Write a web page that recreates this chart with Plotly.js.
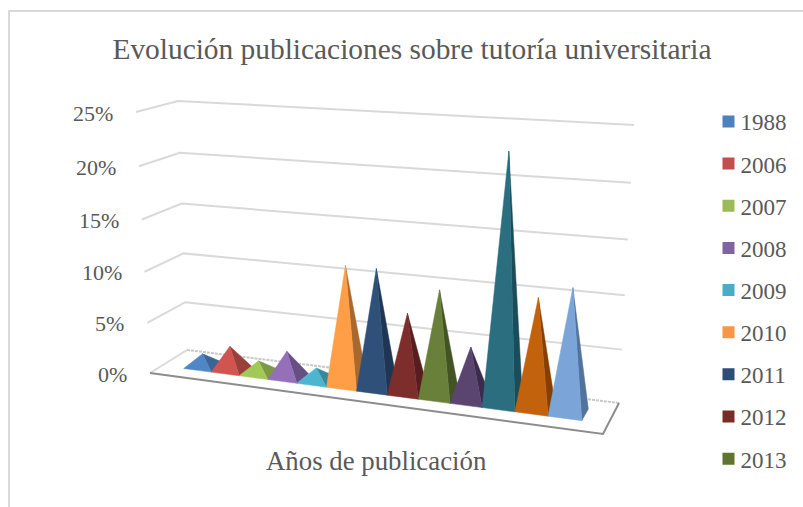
<!DOCTYPE html>
<html><head><meta charset="utf-8">
<script src="https://cdn.plot.ly/plotly-3.0.1.min.js"></script>
<style>html,body{margin:0;padding:0;background:#fff;overflow:hidden}</style>
</head><body><div id="chart" style="width:803px;height:507px"></div>
<script>
const years = ['1988','2006','2007','2008','2009','2010','2011','2012','2013','2014','2015','2016','2017'];
const shares = [1.3,2.4,1.3,2.6,1.3,11.5,11.5,7.6,10.1,5.1,23.0,10.3,11.5];
const legendColors = ['#4F81BD','#C0504D','#9BBB59','#8064A2','#4BACC6','#F79646','#2C4D75','#772C2A','#5F7530','#4D3B62','#276A7C','#B65708','#729ACA'];
const frontColors = ['#4F86C6','#D05550','#A2C957','#9370B8','#4CB5D0','#FF9E47','#2F5179','#7D2D2C','#69803A','#5A4571','#2A6E80','#C3620C','#7BA5D8'];
const sideColors = ['#3A6595','#9A3F3C','#7C9A43','#664F85','#38889E','#A9682E','#1E3654','#561F1E','#435424','#3A2B4C','#1B4C5A','#854000','#52739C'];
const tickValues = [0,5,10,15,20,25];
const tickLabels = ['0%','5%','10%','15%','20%','25%'];
const legendCount = 9;

const axisMax = 25;
const floorC = {fl:[150,373],fr:[603,434],bl:[187,350],br:[619,403]};
const topC = {fl:[136,112],fr:[616,144],bl:[178,101],br:[634,125]};
function bil(q,u,w){return [0,1].map(i=>(1-w)*((1-u)*q.fl[i]+u*q.fr[i])+w*((1-u)*q.bl[i]+u*q.br[i]));}
function P(u,w,val){
  const v=val/axisMax, t=v-0.05*v*(1-v);
  const a=bil(floorC,u,w), b=bil(topC,u,w);
  return [a[0]+(b[0]-a[0])*t,a[1]+(b[1]-a[1])*t];
}
const gridCol='#D9D9D9', txt='#595959', serif='"Liberation Serif","Times New Roman",serif';
const traces=[];
function poly(pts,extra){
  traces.push(Object.assign({type:'scatter',x:pts.map(p=>p[0]),y:pts.map(p=>p[1]),hoverinfo:'skip',showlegend:false},extra));
}
tickValues.slice(1).forEach(t=>{
  poly([P(0,0,t),P(0,1,t),P(1,1,t)],{mode:'lines',line:{color:gridCol,width:2}});
});
poly([P(0,0,0),P(1,0,0),P(1,1,0),P(0,1,0),P(0,0,0)],{mode:'lines',fill:'toself',fillcolor:'#fff',line:{color:'rgba(0,0,0,0)',width:0}});
poly([P(0,0,0),P(0,1,0)],{mode:'lines',line:{color:gridCol,width:2}});
poly([P(0,1,0),P(1,1,0)],{mode:'lines',line:{color:'#C8C8C8',width:2,dash:'3px,1px'}});
poly([P(0,0,0),P(1,0,0),P(1,1,0)],{mode:'lines',line:{color:'#8C8C8C',width:2}});
// pyramids: slots widen toward the viewer's right (perspective)
const uStart=0.049,uEnd=0.941,w0=0.32,w1=0.7,persp=0.11,wApex=0.48;
function slot(k){const s=k/years.length;return uStart+(uEnd-uStart)*s*(1-persp*(1-s));}
years.forEach((yr,i)=>{
  const a=slot(i),b=slot(i+1),c=slot(i+0.5),apex=P(c,wApex,shares[i]);
  const fl=P(a,w0,0),fr=P(b,w0,0),br=P(b,w1,0);
  const sty=col=>({mode:'lines',fill:'toself',fillcolor:col,line:{color:col,width:0.5}});
  poly([fr,br,apex,fr],Object.assign(sty(sideColors[i]),{name:yr+' lateral'}));
  poly([fl,fr,apex,fl],Object.assign(sty(frontColors[i]),{name:yr}));
});
years.slice(0,legendCount).forEach((yr,i)=>{
  traces.push({type:'scatter',mode:'markers',x:[null],y:[null],name:yr,legendgroup:yr,showlegend:true,
    marker:{symbol:'square',size:12,color:legendColors[i]},hoverinfo:'skip'});
});
const annotations=tickValues.map((t,i)=>{
  const p=P(0,0,t);
  return {xref:'x',yref:'y',x:p[0]-21,y:p[1]+1,text:tickLabels[i],showarrow:false,xanchor:'right',yanchor:'middle',
    font:{family:serif,size:22,color:txt}};
});
annotations.push({xref:'x',yref:'y',x:376,y:461,text:'Años de publicación',showarrow:false,xanchor:'center',yanchor:'middle',
  font:{family:serif,size:26.8,color:txt}});
const layout={
  width:803,height:507,margin:{l:0,r:0,t:0,b:0},paper_bgcolor:'#fff',plot_bgcolor:'#fff',
  title:{text:'Evolución publicaciones sobre tutoría universitaria',x:412/803,xanchor:'center',y:1-49/507,yanchor:'middle',
    font:{family:serif,size:29.4,color:txt}},
  xaxis:{range:[0,803],visible:false,fixedrange:true},
  yaxis:{range:[507,0],visible:false,fixedrange:true},
  showlegend:true,
  legend:{x:700.5/803,y:1-100/507,xanchor:'left',yanchor:'top',bgcolor:'rgba(0,0,0,0)',borderwidth:0,
    traceorder:'grouped',tracegroupgap:9.25,itemclick:false,itemdoubleclick:false,
    font:{family:serif,size:23,color:txt}},
  shapes:[{type:'rect',xref:'x',yref:'y',x0:9,y0:11,x1:830,y1:530,line:{color:gridCol,width:2},layer:'below'}],
  annotations:annotations
};
Plotly.newPlot('chart',traces,layout,{displayModeBar:false,staticPlot:true}).then(()=>{
  document.querySelectorAll('.legend .legendpoints path.scatterpts').forEach(el=>{el.setAttribute('transform','translate(28,0)');});
});
</script></body></html>
